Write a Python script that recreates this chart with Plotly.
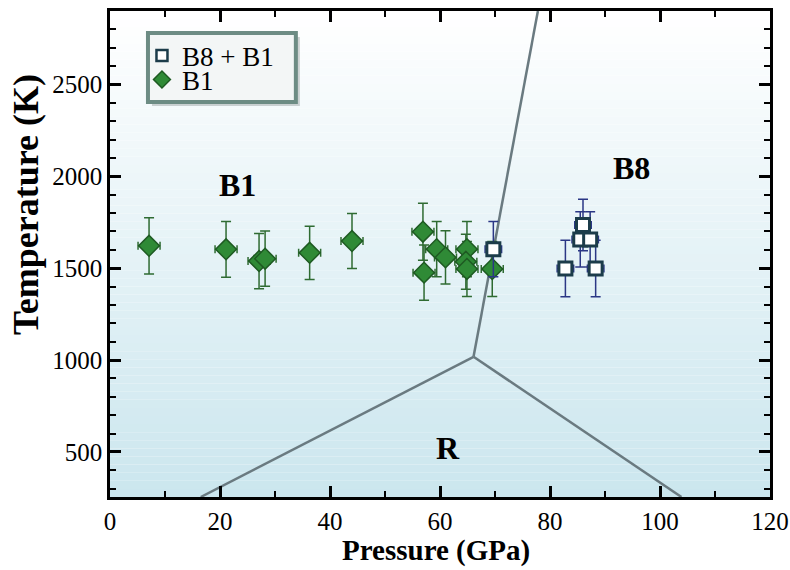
import plotly.graph_objects as go

# ---- data ----
b1_p = [7.1, 21.1, 27.1, 28.2, 36.3, 44.0, 56.9, 57.1, 59.4, 61.0, 64.9, 64.7, 64.9, 69.5]
b1_t = [1622, 1603, 1539, 1552, 1584, 1648, 1699, 1476, 1604, 1559, 1604, 1535, 1496, 1496]
b1_perr = [2, 2, 2, 2, 2, 2, 2, 2, 2, 2, 2, 2, 2, 2]
b1_terr = [153, 152, 150, 150, 145, 150, 155, 150, 150, 145, 150, 150, 150, 150]

b8_p = [69.7, 86.0, 85.5, 87.3, 82.8, 88.3]
b8_t = [1604, 1735, 1657, 1657, 1499, 1499]
b8_perr = [1.5, 1.5, 1.5, 1.5, 1.5, 1.5]
b8_terr = [150, 140, 150, 150, 154, 154]

# phase boundaries (through triple point)
tp_p, tp_t = 66.1, 1018
bound_left_p = [16.5, tp_p]
bound_left_t = [255, tp_t]
bound_right_p = [tp_p, 103.9]
bound_right_t = [tp_t, 255]
bound_up_p = [tp_p, 77.8]
bound_up_t = [tp_t, 2900]

labels = ["B1", "B8", "R"]
label_p = [23.1, 94.8, 61.4]
label_t = [1953, 2045, 522]

FONT = "Liberation Serif"
LINE_C = "#6a7a80"

fig = go.Figure()

for xs, ys in [(bound_left_p, bound_left_t), (bound_right_p, bound_right_t), (bound_up_p, bound_up_t)]:
    fig.add_trace(go.Scatter(x=xs, y=ys, mode="lines", line=dict(color=LINE_C, width=2.5),
                             showlegend=False, hoverinfo="skip"))

fig.add_trace(go.Scatter(
    x=b1_p, y=b1_t, mode="markers", name="B1", showlegend=False,
    marker=dict(symbol="diamond", size=16, color="#2f8a36", line=dict(color="#1e5a22", width=1.5)),
    error_x=dict(type="data", array=b1_perr, color="#2f6b32", thickness=1.5, width=4),
    error_y=dict(type="data", array=b1_terr, color="#2f6b32", thickness=1.5, width=5),
))
fig.add_trace(go.Scatter(
    x=b8_p, y=b8_t, mode="markers", name="B8 + B1", showlegend=False,
    marker=dict(symbol="square", size=13, color="white", line=dict(color="#1c3c4a", width=3)),
    error_x=dict(type="data", array=b8_perr, color="#2b3785", thickness=1.5, width=4),
    error_y=dict(type="data", array=b8_terr, color="#2b3785", thickness=1.5, width=5),
))
# legend entries (smaller symbols as in the reference legend), one per legend box row
fig.add_trace(go.Scatter(
    x=[None], y=[None], mode="markers", name="B8 + B1", legend="legend",
    marker=dict(symbol="square", size=11, color="white", line=dict(color="#1c3c4a", width=2.5)),
))
fig.add_trace(go.Scatter(
    x=[None], y=[None], mode="markers", name="B1", legend="legend2",
    marker=dict(symbol="diamond", size=13, color="#2f8a36", line=dict(color="#1e5a22", width=1.5)),
))

for t, x, y in zip(labels, label_p, label_t):
    fig.add_annotation(x=x, y=y, text=t, showarrow=False,
                       font=dict(family=FONT, size=32, color="black", weight="bold"))

# page geometry (body margin removed in the page, see post_script)
W, H = 790, 570
L, R, T, B = 110, 19.5, 11, 72.7
pw, ph = W - L - R, H - T - B
def px(xp):
    return (xp - L) / pw
def py(yp):
    return (H - B - yp) / ph

# axis titles placed as in the reference
fig.add_annotation(xref="paper", yref="paper", x=px(26), y=py(205), text="Temperature (K)",
                   textangle=-90, showarrow=False, xanchor="center", yanchor="middle",
                   font=dict(family=FONT, size=36, color="black", weight="bold"))
fig.add_annotation(xref="paper", yref="paper", x=px(436), y=py(551), text="Pressure (GPa)",
                   showarrow=False, xanchor="center", yanchor="middle",
                   font=dict(family=FONT, size=29, color="black", weight="bold"))

# gradient background bands
shapes = []
N = 60
top = (255, 255, 255)
bot = (203, 230, 238)
for i in range(N):
    f = (i + 0.5) / N
    c = tuple(int(round(bot[k] + (top[k] - bot[k]) * f)) for k in range(3))
    shapes.append(dict(type="rect", xref="paper", yref="paper", x0=0, x1=1,
                       y0=i / N, y1=(i + 1) / N, fillcolor="rgb(%d,%d,%d)" % c,
                       line=dict(width=0), layer="below"))

# legend box (shadow + frame)
shapes.append(dict(type="rect", xref="paper", yref="paper",
                   x0=px(152), x1=px(300), y0=py(106), y1=py(37),
                   fillcolor="rgba(120,130,130,0.35)", line=dict(width=0), layer="above"))
shapes.append(dict(type="rect", xref="paper", yref="paper",
                   x0=px(148), x1=px(296), y0=py(102), y1=py(33),
                   fillcolor="#f3f6f6", line=dict(color="#6d8c84", width=4), layer="above"))

leg_common = dict(xanchor="left", yanchor="middle", bgcolor="rgba(0,0,0,0)", borderwidth=0,
                  font=dict(family=FONT, size=27, color="black"), itemwidth=30)
fig.update_layout(
    width=W, height=H,
    margin=dict(l=L, r=R, t=T, b=B, autoexpand=False),
    paper_bgcolor="white",
    plot_bgcolor="rgba(0,0,0,0)",
    shapes=shapes,
    showlegend=True,
    legend=dict(x=px(142), y=py(56), **leg_common),
    legend2=dict(x=px(142), y=py(80), **leg_common),
    font=dict(family=FONT, color="black"),
)

axis_common = dict(
    showgrid=False, zeroline=False, showline=True, linecolor="black", linewidth=2.5,
    mirror="allticks", ticks="inside", ticklen=11, tickwidth=2.5, tickcolor="black",
    tickfont=dict(family=FONT, size=25, color="black"), automargin=False,
)
fig.update_xaxes(
    range=[0, 120], dtick=20, tick0=0,
    minor=dict(dtick=10, ticks="inside", ticklen=6, tickwidth=2, tickcolor="black"),
    **axis_common,
)
fig.update_yaxes(
    range=[255, 2900], dtick=500, tick0=0,
    minor=dict(dtick=100, ticks="inside", ticklen=6, tickwidth=2, tickcolor="black"),
    **axis_common,
)

fig.write_html(
    "out.html",
    config={"displayModeBar": False},
    post_script="document.body.style.margin='0';document.documentElement.style.overflow='hidden';document.body.style.overflow='hidden';",
)
